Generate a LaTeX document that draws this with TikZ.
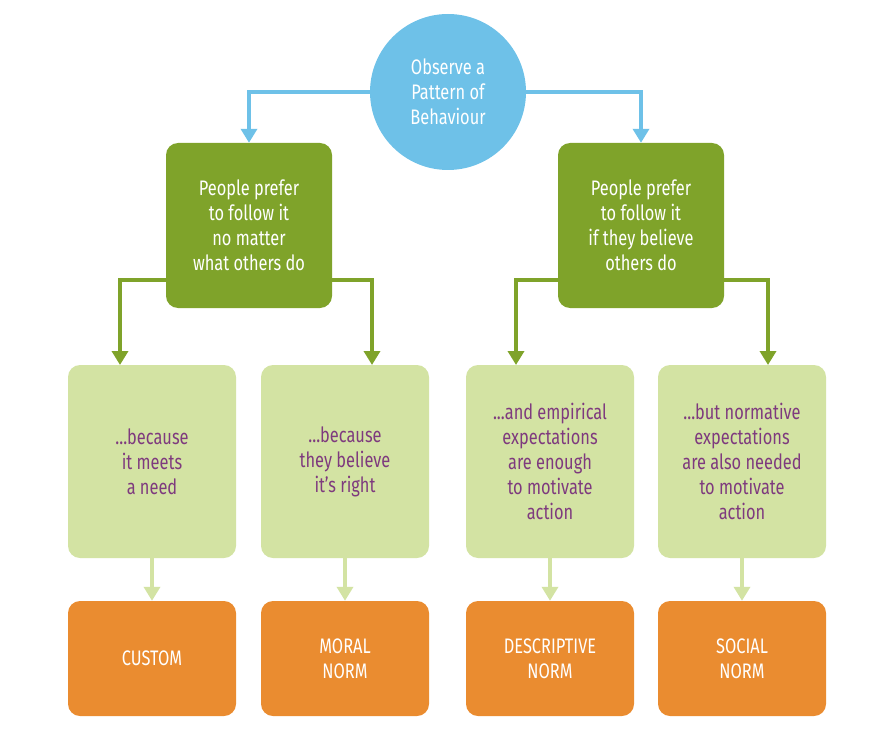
\documentclass[tikz,border=0pt]{standalone}
\usepackage{fontspec}
\setmainfont[FakeStretch=0.78]{Fira Sans}
\usetikzlibrary{arrows.meta}
\definecolor{cblue}{HTML}{6EC1E8}
\definecolor{cgreen}{HTML}{7FA32A}
\definecolor{clight}{HTML}{D3E3A3}
\definecolor{corange}{HTML}{EA8C30}
\definecolor{cpurple}{HTML}{7E3A7E}
\begin{document}
\begin{tikzpicture}[x=1pt,y=-1pt,
  txt/.style={align=center,font=\fontsize{21}{25}\selectfont},
  gbox/.style={txt,fill=cgreen,text=white,rounded corners=12pt,minimum width=166pt,minimum height=165pt},
  lbox/.style={txt,fill=clight,text=cpurple,rounded corners=12pt,minimum width=168pt,minimum height=193pt},
  obox/.style={txt,fill=corange,text=white,rounded corners=12pt,minimum width=168pt,minimum height=115pt},
  arr/.style={line width=4pt,-{Triangle[width=16pt,length=14pt]}}]
\useasboundingbox (0,0) rectangle (890,743);
\node[circle,fill=cblue,text=white,txt,minimum size=156pt,inner sep=0pt] (top) at (448,92) {Observe a\\Pattern of\\Behaviour};
\node[gbox] (gl) at (249,225.5) {People prefer\\to follow it\\no matter\\what others do};
\node[gbox] (gr) at (641,225.5) {People prefer\\to follow it\\if they believe\\others do};
\node[lbox] (l1) at (152,461.5) {...because\\it meets\\a need};
\node[lbox] (l2) at (345,461.5) {...because\\they believe\\it’s right};
\node[lbox] (l3) at (550,461.5) {...and empirical\\expectations\\are enough\\to motivate\\action};
\node[lbox] (l4) at (742,461.5) {...but normative\\expectations\\are also needed\\to motivate\\action};
\node[obox] (o1) at (152,658.5) {CUSTOM};
\node[obox] (o2) at (345,658.5) {MORAL\\NORM};
\node[obox] (o3) at (550,658.5) {DESCRIPTIVE\\NORM};
\node[obox] (o4) at (742,658.5) {SOCIAL\\NORM};
\begin{scope}[on background layer/.style={}]
\draw[arr,cblue] (top.west) -| (gl.north);
\draw[arr,cblue] (top.east) -| (gr.north);
\draw[arr,cgreen] (gl.west|-0,280) -| (120,365);
\draw[arr,cgreen] (gl.east|-0,280) -| (372,365);
\draw[arr,cgreen] (gr.west|-0,280) -| (516,365);
\draw[arr,cgreen] (gr.east|-0,280) -| (768,365);
\foreach \a/\b in {l1/o1,l2/o2,l3/o3,l4/o4}
  \draw[arr,clight] (\a.south) -- (\b.north);
\end{scope}
\end{tikzpicture}
\end{document}
